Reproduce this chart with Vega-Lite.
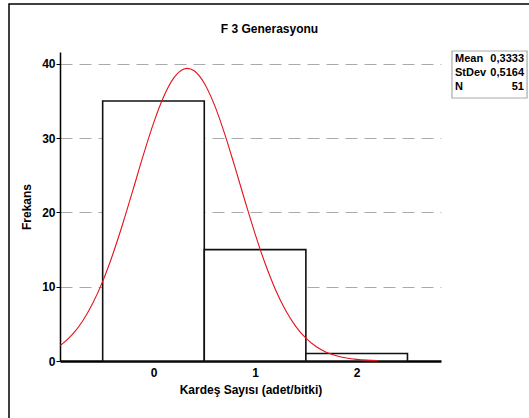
{
  "$schema": "https://vega.github.io/schema/vega-lite/v6.json",
  "autosize": {"type": "none"},
  "width": 381,
  "height": 309,
  "padding": {"left": 60, "top": 52, "right": 88, "bottom": 57},
  "background": "white",
  "config": {
    "view": {"stroke": null},
    "font": "Liberation Sans Narrow, Arial Narrow, Liberation Sans, sans-serif"
  },
  "title": {
    "text": "F 3 Generasyonu",
    "font": "Liberation Sans Narrow, Arial Narrow, Liberation Sans, sans-serif",
    "fontSize": 12,
    "fontWeight": "bold",
    "color": "#000",
    "anchor": "middle",
    "frame": "group",
    "dx": 19,
    "offset": -33
  },
  "datasets": {
    "bars": [
      {"bin_start": -0.5, "bin_end": 0.5, "count": 35},
      {"bin_start": 0.5, "bin_end": 1.5, "count": 15},
      {"bin_start": 1.5, "bin_end": 2.5, "count": 1}
    ],
    "curve": [
      {"x": -0.92, "freq": 2.072},
      {"x": -0.9, "freq": 2.275},
      {"x": -0.8, "freq": 3.545},
      {"x": -0.7, "freq": 5.322},
      {"x": -0.6, "freq": 7.694},
      {"x": -0.5, "freq": 10.718},
      {"x": -0.4, "freq": 14.376},
      {"x": -0.3, "freq": 18.574},
      {"x": -0.2, "freq": 23.115},
      {"x": -0.1, "freq": 27.707},
      {"x": 0.0, "freq": 31.99},
      {"x": 0.1, "freq": 35.577},
      {"x": 0.2, "freq": 38.109},
      {"x": 0.3, "freq": 39.318},
      {"x": 0.3333, "freq": 39.4},
      {"x": 0.4, "freq": 39.073},
      {"x": 0.5, "freq": 37.4},
      {"x": 0.6, "freq": 34.481},
      {"x": 0.7, "freq": 30.621},
      {"x": 0.8, "freq": 26.191},
      {"x": 0.9, "freq": 21.577},
      {"x": 1.0, "freq": 17.122},
      {"x": 1.1, "freq": 13.087},
      {"x": 1.2, "freq": 9.635},
      {"x": 1.3, "freq": 6.833},
      {"x": 1.4, "freq": 4.667},
      {"x": 1.5, "freq": 3.07},
      {"x": 1.6, "freq": 1.945},
      {"x": 1.7, "freq": 1.187},
      {"x": 1.8, "freq": 0.698},
      {"x": 1.9, "freq": 0.395},
      {"x": 2.0, "freq": 0.216},
      {"x": 2.1, "freq": 0.113},
      {"x": 2.2, "freq": 0.057}
    ]
  },
  "layer": [
    {
      "data": {"name": "bars"},
      "mark": {"type": "rect", "fill": "white", "stroke": "#111", "strokeWidth": 1.6},
      "encoding": {
        "x": {
          "field": "bin_start",
          "type": "quantitative",
          "title": "Kardeş Sayısı (adet/bitki)",
          "scale": {"domain": [-0.92, 2.83], "nice": false, "zero": false},
          "axis": {
            "values": [0, 1, 2],
            "ticks": false,
            "grid": false,
            "format": "d",
            "domainColor": "#000",
            "domainWidth": 2.5,
            "labelFont": "Liberation Sans Narrow, Arial Narrow, Liberation Sans, sans-serif",
            "labelFontSize": 12,
            "labelFontWeight": "bold",
            "labelColor": "#000",
            "labelPadding": 6,
            "titleFont": "Liberation Sans Narrow, Arial Narrow, Liberation Sans, sans-serif",
            "titleFontSize": 12,
            "titleFontWeight": "bold",
            "titleColor": "#000",
            "titlePadding": 6
          }
        },
        "x2": {"field": "bin_end"},
        "y": {
          "field": "count",
          "type": "quantitative",
          "title": "Frekans",
          "scale": {"domain": [0, 41.6], "nice": false, "zero": false},
          "axis": {
            "values": [0, 5, 10, 15, 20, 25, 30, 35, 40],
            "labelExpr": "datum.value % 10 === 0 ? datum.label : ''",
            "grid": true,
            "gridColor": "#aaa",
            "gridDash": [12, 7],
            "gridWidth": 1,
            "gridOpacity": {"condition": {"test": "datum.value % 10 === 0 && datum.value > 0", "value": 1}, "value": 0},
            "tickColor": "#000",
            "tickSize": {"condition": {"test": "datum.value % 10 === 0", "value": 4}, "value": -2},
            "domainColor": "#000",
            "domainWidth": 1.5,
            "labelFont": "Liberation Sans Narrow, Arial Narrow, Liberation Sans, sans-serif",
            "labelFontSize": 12,
            "labelFontWeight": "bold",
            "labelColor": "#000",
            "labelPadding": 1,
            "titleFont": "Liberation Sans Narrow, Arial Narrow, Liberation Sans, sans-serif",
            "titleFontSize": 12,
            "titleFontWeight": "bold",
            "titleColor": "#000",
            "titlePadding": 8
          }
        },
        "y2": {"datum": 0}
      }
    },
    {
      "data": {"name": "curve"},
      "mark": {"type": "line", "color": "#e3121c", "strokeWidth": 1.1, "interpolate": "monotone"},
      "encoding": {
        "x": {"field": "x", "type": "quantitative", "title": "Kardeş Sayısı (adet/bitki)"},
        "y": {"field": "freq", "type": "quantitative", "title": "Frekans"}
      }
    },
    {
      "data": {"values": [{}]},
      "mark": {"type": "rect", "filled": false, "fill": "transparent", "stroke": "#000", "strokeWidth": 1.5, "clip": false},
      "encoding": {
        "x": {"datum": -1.422, "type": "quantitative", "title": "Kardeş Sayısı (adet/bitki)"},
        "x2": {"datum": 6},
        "y": {"datum": 48.06, "type": "quantitative", "title": "Frekans"},
        "y2": {"datum": -20}
      }
    },
    {
      "data": {"values": [{}]},
      "mark": {"type": "rect", "fill": "white", "stroke": "#aaa", "strokeWidth": 1.2, "clip": false},
      "encoding": {
        "x": {"datum": 2.938, "type": "quantitative", "title": "Kardeş Sayısı (adet/bitki)"},
        "x2": {"datum": 3.677},
        "y": {"datum": 41.735, "type": "quantitative", "title": "Frekans"},
        "y2": {"datum": 35.41}
      }
    },
    {
      "data": {"values": [{}]},
      "mark": {"type": "text", "text": ["Mean", "StDev", "N"], "align": "left", "baseline": "middle", "lineHeight": 14, "fontSize": 11, "fontWeight": "bold", "color": "#000", "clip": false},
      "encoding": {
        "x": {"datum": 2.968, "type": "quantitative", "title": "Kardeş Sayısı (adet/bitki)"},
        "y": {"datum": 40.66, "type": "quantitative", "title": "Frekans"}
      }
    },
    {
      "data": {"values": [{}]},
      "mark": {"type": "text", "text": ["0,3333", "0,5164", "51"], "align": "right", "baseline": "middle", "lineHeight": 14, "fontSize": 11, "fontWeight": "bold", "color": "#000", "clip": false},
      "encoding": {
        "x": {"datum": 3.647, "type": "quantitative", "title": "Kardeş Sayısı (adet/bitki)"},
        "y": {"datum": 40.66, "type": "quantitative", "title": "Frekans"}
      }
    }
  ]
}
